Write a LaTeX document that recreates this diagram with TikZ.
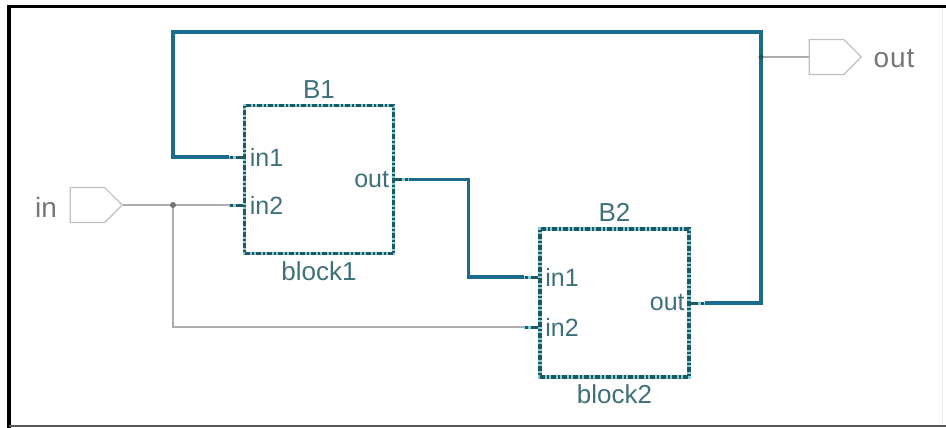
\documentclass[tikz,border=0pt]{standalone}
\usepackage{fontspec}
\setmainfont{Liberation Sans}
\usetikzlibrary{positioning,shapes.symbols}

\definecolor{buscol}{RGB}{27,108,140}
\definecolor{boxcol}{RGB}{30,88,98}
\definecolor{boxlite}{RGB}{130,205,216}
\definecolor{labcol}{RGB}{62,112,122}
\definecolor{wirecol}{RGB}{172,172,172}
\definecolor{portcol}{RGB}{192,192,192}
\definecolor{extcol}{RGB}{118,118,118}

\begin{document}
\begin{tikzpicture}[x=1pt, y=-1pt,
  block/.style={draw=boxcol, line width=3.6pt, dash pattern=on 5pt off 2pt on 2pt off 2pt,
    preaction={draw=boxlite, line width=3.6pt, solid},
    minimum width=149pt, minimum height=148pt, inner sep=0pt},
  blab/.style={text=labcol, font=\fontsize{26}{28}\selectfont, inner sep=0pt},
  plab/.style={text=labcol, font=\fontsize{25}{27}\selectfont, inner sep=0pt},
  bus/.style={draw=buscol, line width=3.2pt},
  wire/.style={draw=wirecol, line width=1.2pt},
  stub/.style={draw=boxcol, line width=3pt, dash pattern=on 7pt off 3pt on 3pt off 20pt,
    preaction={draw=boxlite, line width=3pt, solid}},
  extport/.style={signal, signal to=east, signal pointer angle=90, draw=portcol, line width=1.2pt,
    fill=white, minimum width=52pt, minimum height=35pt, inner sep=0pt, anchor=east},
  extlab/.style={text=extcol, font=\fontsize{28}{30}\selectfont, inner sep=0pt},
  jdot/.style={circle, fill=#1, inner sep=0pt, minimum size=6pt}]
  \useasboundingbox (0,0) rectangle (946,428);
  % frame
  \draw[line width=3.5pt] (9,428) -- (9,6.5) -- (946,6.5);
  \draw[line width=2pt, black!65] (9,426) -- (946,426);
  \draw[line width=1pt, black!8] (942,8) -- (942,425);
  % blocks
  \node[block] (b1) at (319,179.5) {};
  \node[block] (b2) at (614.5,303) {};
  \node[blab, above=5pt of b1] (b1name) {B1};
  \node[blab, below=6pt of b1] (b1kind) {block1};
  \node[blab, above=6pt of b2] (b2name) {B2};
  \node[blab, below=6pt of b2] (b2kind) {block2};
  % block ports
  \coordinate (b1in1) at ([yshift=22.5pt]b1.west);
  \coordinate (b1in2) at ([yshift=-25.5pt]b1.west);
  \coordinate (b1out) at (b1.east);
  \coordinate (b2in1) at ([yshift=26pt]b2.west);
  \coordinate (b2in2) at ([yshift=-24pt]b2.west);
  \coordinate (b2out) at (b2.east);
  \node[plab, anchor=west, xshift=7pt] (b1in1lab) at (b1in1) {in1};
  \node[plab, anchor=west, xshift=7pt] (b1in2lab) at (b1in2) {in2};
  \node[plab, anchor=east, xshift=-6pt] (b1outlab) at (b1out) {out};
  \node[plab, anchor=west, xshift=7pt] (b2in1lab) at (b2in1) {in1};
  \node[plab, anchor=west, xshift=7pt] (b2in2lab) at (b2in2) {in2};
  \node[plab, anchor=east, xshift=-6pt] (b2outlab) at (b2out) {out};
  % outer ports
  \node[extport] (inport) at (123,205) {};
  \node[extlab] (inlab) at (46,207) {in};
  \node[extport] (outport) at (862,57) {};
  \node[extlab] (outlab) at (894,59) {o\kern1pt u\kern1pt t};
  \coordinate (jin) at (173,205);
  \coordinate (jout) at (761,57);
  \coordinate (fbl) at (173,32);
  \coordinate (fbr) at (761,32);
  % thin wires
  \draw[wire, shorten >=14pt] (inport.east) -- (b1in2);
  \draw[wire, shorten >=14pt] (jin) |- (b2in2);
  \draw[wire] (jout) -- (outport.west);
  % thick wires
  \draw[bus, shorten <=14pt] (b1in1) -| (fbl) -- (fbr) |- (b2out) [shorten >=14pt];
  \draw[bus, shorten <=14pt, shorten >=14pt] (b1out) -- ++(73,0) |- (b2in1);
  % stubs
  \foreach \p in {b1in1,b1in2,b2in1,b2in2}
    \draw[stub] (\p) -- ++(-14,0);
  \foreach \p in {b1out,b2out}
    \draw[stub] (\p) -- ++(14,0);
  \node[jdot=black!55] (jindot) at (jin) {};
  \node[jdot=boxcol, minimum size=5pt] (joutdot) at (jout) {};
\end{tikzpicture}
\end{document}
